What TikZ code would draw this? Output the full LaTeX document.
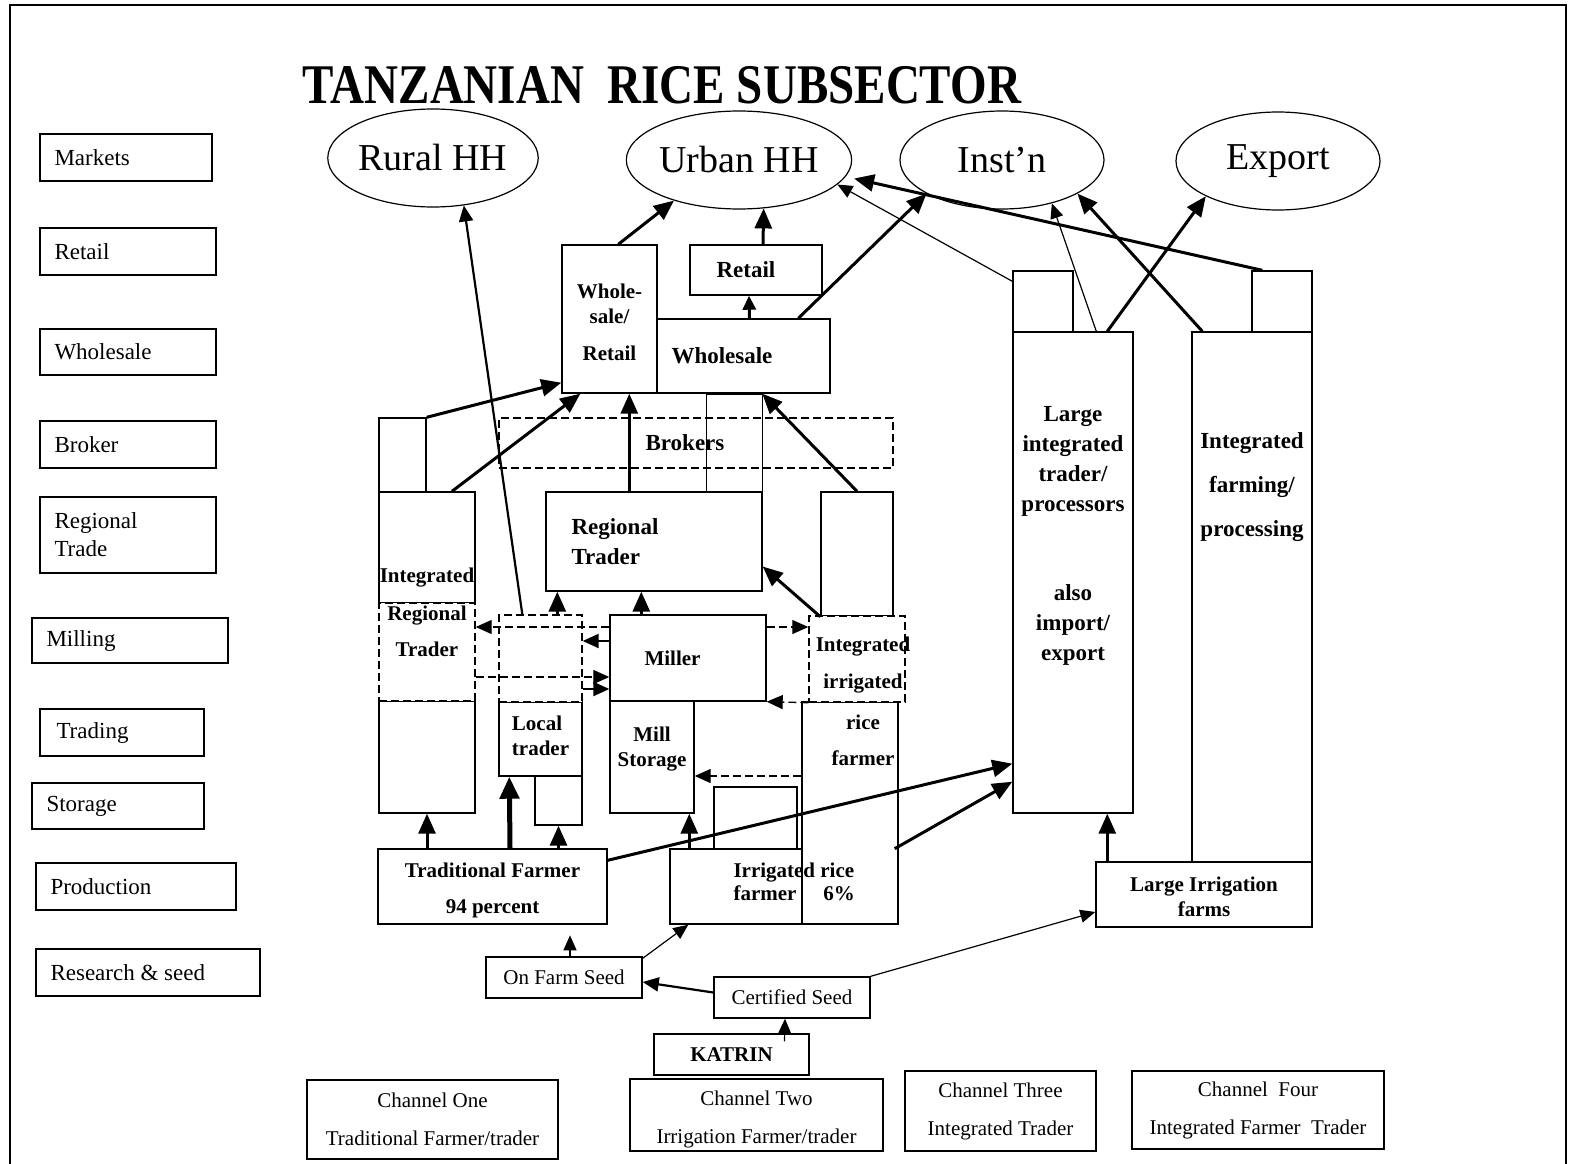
\documentclass[tikz,border=0pt]{standalone}
\usepackage{fontspec}
\setmainfont{Liberation Serif}
\newfontfamily\titlefont[FakeStretch=0.84]{Liberation Serif}
\usetikzlibrary{arrows.meta, fit, shapes.geometric, positioning}

\newcommand\lvlfont{\fontsize{23}{28}\selectfont}
\newcommand\seedfont{\fontsize{21}{25}\selectfont}
\newcommand\bfsmall{\bfseries\fontsize{21}{25}\selectfont}
\newcommand\bflarge{\bfseries\fontsize{23}{30}\selectfont}
\newcommand\ovalfont{\fontsize{38}{44}\selectfont}

\begin{document}
\begin{tikzpicture}[x=1pt, y=-1pt,
  box/.style={draw, line width=1.4pt, inner sep=0pt},
  dbox/.style={box, fill=white, dash pattern=on 8pt off 4pt},
  lvltxt/.style={inner sep=0pt, align=left, font=\lvlfont},
  oval/.style={draw, ellipse, line width=1.2pt, inner sep=0pt,
    minimum width=204pt, minimum height=98pt, font=\ovalfont},
  bs/.style={font=\bfsmall, align=center},
  bl/.style={font=\bflarge, align=center},
  sd/.style={font=\seedfont, align=center},
  thn/.style={line width=1.2pt, >={Triangle[length=15pt,width=13pt]}},
  med/.style={line width=2.2pt, >={Triangle[length=16pt,width=14pt]}},
  thk/.style={line width=3pt, >={Triangle[length=20pt,width=17pt]}},
  vthk/.style={line width=5pt, >={Triangle[length=22pt,width=19pt]}},
  dsh/.style={line width=1.3pt, dash pattern=on 8pt off 4pt,
    >={Triangle[length=16pt,width=14pt]}}]

  \useasboundingbox (0,0) rectangle (1580,1164);
  \draw[line width=1.6pt] (10,5) rectangle (1566,1180);

  \node[font=\titlefont\bfseries\fontsize{56}{60}\selectfont] (title) at (662,85)
    {TANZANIAN\ \ RICE SUBSECTOR};

  % markets
  \node[oval] (rural) at (433,158) {Rural HH};
  \node[oval] (urban) at (739,160) {Urban HH};
  \node[oval] (inst) at (1002,160) {Inst’n};
  \node[oval] (export) at (1278,161) {Export};

  % levels on the left
  \node[box, fit={(40,134) (212,181)}] (mkt) {};
  \node[lvltxt, right=15pt of mkt.west] (mkt-t) {Markets};
  \node[box, fit={(40,228) (216,275)}] (rtl) {};
  \node[lvltxt, right=15pt of rtl.west] (rtl-t) {Retail};
  \node[box, fit={(40,329) (216,375)}] (whl) {};
  \node[lvltxt, right=15pt of whl.west] (whl-t) {Wholesale};
  \node[box, fit={(40,421) (216,468)}] (brk) {};
  \node[lvltxt, right=15pt of brk.west] (brk-t) {Broker};
  \node[box, fit={(40,497) (216,573)}] (reg) {};
  \node[lvltxt, right=15pt of reg.west] (reg-t) {Regional\\Trade};
  \node[box, fit={(32,618) (228,663)}] (mil) {};
  \node[lvltxt, right=15pt of mil.west] (mil-t) {Milling};
  \node[box, fit={(40,709) (204,756)}] (trd) {};
  \node[lvltxt, right=17pt of trd.west] (trd-t) {Trading};
  \node[box, fit={(32,783) (204,829)}] (sto) {};
  \node[lvltxt, right=15pt of sto.west] (sto-t) {Storage};
  \node[box, fit={(36,863) (236,910)}] (pro) {};
  \node[lvltxt, right=15pt of pro.west] (pro-t) {Production};
  \node[box, fit={(36,949) (260,996)}] (rsd) {};
  \node[lvltxt, right=15pt of rsd.west] (rsd-t) {Research \& seed};

  % wholesale and retail
  \node[box, fit={(562,245) (657,393)}] (wr) {};
  \node[bs] (wr-t) at ([yshift=-3pt]wr.center) {Whole-\\sale/\\[12pt]Retail};
  \node[box, fit={(690,245) (822,295)}] (rt) {};
  \node[bl] (rt-t) at ([xshift=-10pt]rt.center) {Retail};
  \node[box, fit={(657,319) (830,393)}] (ws) {};
  \node[bl, inner sep=0pt, right=15pt of ws.west] (ws-t) {Wholesale};
  \node[box, dash pattern=on 8pt off 4pt, fit={(499,418) (893,468)}] (brokers) {};
  \node[bl] (brokers-t) at ([xshift=-11pt]brokers.center) {Brokers};
  \node[box, line width=1pt, fit={(706,394) (762,492)}] (bk-link) {};

  % channel one column
  \node[box, fit={(379,418) (426,492)}] (sb1) {};
  \node[box, fit={(379,492) (475,603)}] (intL) {};
  \node[box, fit={(379,701) (475,813)}] (lowL) {};
  \node[dbox, fit={(379,603) (475,701)}] (rtL) {};
  \node[bs] (intL-t) at ([yshift=26pt]intL.south) {Integrated};
  \node[bs] (rtL-t) at ([yshift=21pt]rtL.center) {Regional\\[11pt]Trader};
  \node[box, fit={(499,702) (582,776)}] (lt) {};
  \node[bs, align=left] (lt-t) at ([yshift=3pt]lt.center) {Local\\trader};
  \node[dbox, fit={(499,615) (582,702)}] (ltd) {};
  \node[box, fit={(535,776) (582,825)}] (sb2) {};

  % regional trader and miller
  \node[box, fit={(546,492) (762,591)}] (rtB) {};
  \node[bl, inner sep=0pt, align=left, right=26pt of rtB.west] (rtB-t) {Regional\\Trader};
  \node[box, fit={(610,615) (766,701)}] (miller) {};
  \node[bs, inner sep=0pt, right=35pt of miller.west] (miller-t) {Miller};
  \node[box, fit={(610,701) (694,813)}] (ms) {};
  \node[bs] (ms-t) at ([yshift=8pt]ms.center) {Mill\\Storage};

  % channel two column
  \node[box, fit={(821,492) (893,616)}] (rbox) {};
  \node[box, fit={(802,702) (898,924)}] (rf) {};
  \node[dbox, fit={(809,616) (905,702)}] (iid) {};
  \node[bs] (iid-t) at ([xshift=6pt,yshift=-6pt]iid.center) {Integrated\\[12pt]irrigated};
  \node[bs] (rf-t) at ([xshift=13pt,yshift=73pt]rf.center) {rice\\[11pt]farmer};
  \node[box, fit={(714,787) (797,849)}] (sb3) {};
  \node[box, fit={(378,849) (607,924)}] (tf) {};
  \node[bs] (tf-t) at ([yshift=-3.5pt]tf.center) {Traditional Farmer\\[11pt]94 percent};
  \node[box, fit={(670,849) (802,924)}] (irr) {};
  \node[font=\bfsmall, inner sep=0pt, align=left, anchor=west] (irr-t)
    at ([xshift=64pt,yshift=5pt]irr.west) {Irrigated rice\\[-2pt]farmer\hspace{27pt}6\%};

  % channels three and four
  \node[box, fit={(1013,332) (1133,813)}] (lit) {};
  \node[bl] (lit-t) at ([yshift=37pt]lit.center)
    {Large\\integrated\\trader/\\processors\\[59pt]also\\import/\\export};
  \node[box, fit={(1013,271) (1073,332)}] (lsb) {};
  \node[box, fit={(1192,332) (1312,862)}] (ifp) {};
  \node[bl] (ifp-t) at ([yshift=110pt]ifp.center) {Integrated\\[14pt]farming/\\[14pt]processing};
  \node[box, fit={(1252,271) (1312,332)}] (rsb) {};
  \node[box, fit={(1096,862) (1312,927)}] (lif) {};
  \node[bs] (lif-t) at ([yshift=-2pt]lif.center) {Large Irrigation\\farms};

  % seed
  \node[box, fit={(486,957) (642,998)}] (ofs) {};
  \node[sd] (ofs-t) at (ofs.center) {On Farm Seed};
  \node[box, fit={(714,977) (870,1018)}] (cs) {};
  \node[sd] (cs-t) at (cs.center) {Certified Seed};
  \node[box, fit={(654,1034) (809,1075)}] (kat) {};
  \node[bs] (kat-t) at (kat.center) {KATRIN};

  % channel legend
  \node[box, fit={(307,1080) (558,1159)}] (ch1) {};
  \node[sd] (ch1-t) at (ch1.center) {Channel One\\[13pt]Traditional Farmer/trader};
  \node[box, fit={(630,1079) (883,1151)}] (ch2) {};
  \node[sd] (ch2-t) at ([yshift=-4pt]ch2.center) {Channel Two\\[13pt]Irrigation Farmer/trader};
  \node[box, fit={(905,1071) (1096,1151)}] (ch3) {};
  \node[sd] (ch3-t) at (ch3.center) {Channel Three\\[13pt]Integrated Trader};
  \node[box, fit={(1132,1071) (1384,1149)}] (ch4) {};
  \node[sd] (ch4-t) at (ch4.center) {Channel\ \ Four\\[13pt]Integrated Farmer\ \ Trader};

  % flows to the markets
  \draw[thk,->] (sb1.north east) -- ([yshift=11pt]wr.south west);
  \draw[thk,->] ([xshift=25pt]intL.north) -- ([xshift=19pt]wr.south west);
  \draw[thk,->] ([xshift=84pt]rtB.north west) -- ([xshift=68pt]wr.south west);
  \draw[thk,->] (rbox.north) -- ([xshift=106pt]ws.south west);
  \draw[thk,->] ([xshift=57pt]wr.north west) -- (urban.-148);
  \draw[thk,->] ([xshift=7pt]rt.north) -- (urban.-63);
  \draw[thk,->,>={Triangle[length=14pt,width=13pt]}] ([xshift=6pt]ws.north) -- ([xshift=-7pt]rt.south);
  \draw[thk,->] ([xshift=142pt]ws.north west) -- (inst.-156);
  \draw[med,->] ([xshift=24pt]ltd.north west) -- (rural.-57);
  \draw[thk,->] ([xshift=59pt]ltd.north west) -- ([xshift=12pt]rtB.south west);
  \draw[thk,->] ([xshift=32pt]miller.north west) -- ([xshift=96pt]rtB.south west);
  \draw[thk,->] (rbox.south west) -- ([yshift=-25pt]rtB.east);

  % milling
  \draw[dsh,->] ([yshift=31pt]miller.west) -- ([yshift=25pt]rtL.east);
  \draw[dsh,->] ([yshift=31pt]miller.east) -- ([yshift=32pt]iid.west);
  \draw[med,->] ([yshift=17pt]miller.west) -- ([yshift=17.5pt]ltd.east);
  \draw[dsh,->] ([yshift=-25pt]rtL.east) -- ([yshift=-19pt]miller.west);
  \draw[med,->] ([yshift=-30.5pt]ltd.east) -- ([yshift=-31pt]miller.west);
  \draw[dsh,->] (iid.south west) -- (miller.south east);
  \draw[dsh,->] ([yshift=37pt]rf.west) -- ([yshift=-19pt]ms.east);

  % production
  \draw[thk,->] (lowL.south |- tf.north) -- (lowL.south);
  \draw[vthk,->] ([xshift=17.5pt]tf.north) -- ([xshift=11pt]lt.south west);
  \draw[thk,->] (sb2.south |- tf.north) -- (sb2.south);
  \draw[thk,->] ([xshift=20pt]irr.north west) -- ([xshift=80pt]ms.south west);
  \draw[thk,->] ([yshift=-12pt]tf.north east) -- ([yshift=50pt]lit.south west);
  \draw[thk,->] ([xshift=-4pt,yshift=76pt]rf.south east) -- ([yshift=32pt]lit.south west);
  \draw[thk,->] ([xshift=12pt]lif.north west) -- ([xshift=95pt]lit.south west);

  % integrated channels
  \draw[thn,->] ([yshift=-11pt]lsb.north west) -- (urban.-14);
  \draw[thk,->] ([xshift=11pt]rsb.north west) -- ([xshift=10pt]urban.-10);
  \draw[thn,->] ([xshift=84pt]lit.north west) -- (inst.-41);
  \draw[thk,->] ([xshift=95pt]lit.north west) -- (export.-154);
  \draw[thk,->] ([xshift=11pt]ifp.north west) -- (inst.-24);

  % seed
  \draw[thn,->] (cs.north east) -- ([yshift=-17.5pt]lif.west);
  \draw[med,->] ([yshift=5pt]cs.west) -- ([yshift=-4.5pt]ofs.east);
  \draw[thn,->] ([xshift=6pt]ofs.north) -- +(0,-21);
  \draw[thn,->] ([yshift=-2pt]ofs.north east) -- ([xshift=19pt]irr.south west);
  \draw[thn,->] ([xshift=53pt,yshift=-8pt]kat.north) -- ([xshift=-7pt]cs.south);
\end{tikzpicture}
\end{document}
